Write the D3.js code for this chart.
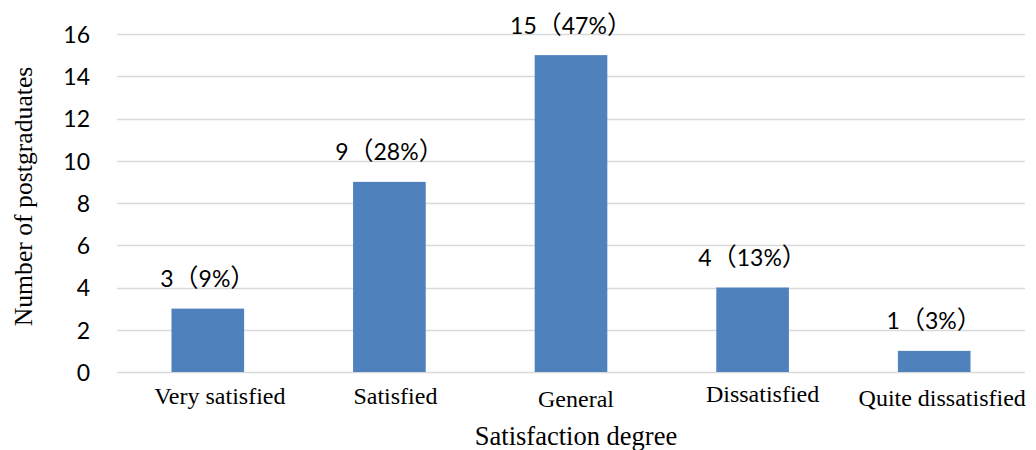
<!DOCTYPE html>
<html><head><meta charset="utf-8">
<script src="https://cdn.jsdelivr.net/npm/d3@7"></script>
<style>body{margin:0;background:#fff;}svg{display:block;}</style>
</head><body>
<svg id="chart" width="1036" height="450"></svg>
<script>
const categories = ["Very satisfied","Satisfied","General","Dissatisfied","Quite dissatisfied"];
const counts = [3, 9, 15, 4, 1];
const percents = ["9%","28%","47%","13%","3%"];
const yTicks = [0,2,4,6,8,10,12,14,16];

const svg = d3.select("#chart");
const plot = {left:117, right:1025, top:34, bottom:372};
const labelDy = [0, 0, 3, -1.5, 2];
const labelDx = [12, 6, 5, 10, 8];

const x = d3.scaleBand().domain(categories).range([plot.left, plot.right]).paddingInner(0.6).paddingOuter(0.3);
const y = d3.scaleLinear().domain([0,16]).range([plot.bottom, plot.top]);

const num = "Lato, 'Noto Sans CJK SC', sans-serif";
const cjk = "'Noto Sans CJK SC', sans-serif";
const serif = "'Liberation Serif', 'Times New Roman', serif";

// gridlines
svg.append("g").selectAll("line").data(yTicks).join("line")
  .attr("x1", plot.left).attr("x2", plot.right)
  .attr("y1", d => Math.round(y(d))+0.5).attr("y2", d => Math.round(y(d))+0.5)
  .attr("stroke", "#d9d9d9").attr("stroke-width", 1.5);

// y axis labels
const yAxis = d3.axisLeft(y).tickValues(yTicks).tickSize(0).tickPadding(0);
const gy = svg.append("g").attr("transform", `translate(90,0)`).call(yAxis);
gy.select(".domain").remove();
gy.selectAll("text").attr("font-family", num).attr("font-size", 23).attr("fill", "#000").attr("dy", "0.36em");

// bars
svg.append("g").selectAll("rect").data(categories).join("rect")
  .attr("x", d => x(d)).attr("width", x.bandwidth())
  .attr("y", (d,i) => y(counts[i])).attr("height", (d,i) => y(0) - y(counts[i]))
  .attr("fill", "#4f81bd");

// value labels
const vl = svg.append("g").selectAll("text").data(categories).join("text")
  .attr("x", d => x(d) + x.bandwidth()/2)
  .attr("y", (d,i) => y(counts[i]) - 21.5)
  .attr("text-anchor", "middle")
  .attr("font-family", num).attr("font-size", 23).attr("fill", "#000");
vl.append("tspan").text((d,i) => counts[i]);
vl.append("tspan").attr("font-family", cjk).attr("font-size", 25).text("（");
vl.append("tspan").text((d,i) => percents[i]);
vl.append("tspan").attr("font-family", cjk).attr("font-size", 25).text("）");

// x category labels
const xAxis = d3.axisBottom(x).tickSize(0).tickPadding(0);
const gx = svg.append("g").attr("transform", `translate(0,${plot.bottom})`).call(xAxis);
gx.select(".domain").remove();
gx.selectAll("text").attr("font-family", serif).attr("font-size", 24).attr("fill", "#000")
  .attr("dy", null).attr("y", (d,i) => 31.5 + labelDy[i]).attr("x", (d,i) => labelDx[i]);

// axis titles
svg.append("text").attr("x", 576).attr("y", 445).attr("text-anchor", "middle")
  .attr("font-family", serif).attr("font-size", 26.5).attr("fill", "#000")
  .text("Satisfaction degree");
svg.append("text").attr("transform", "translate(32,196.5) rotate(-90)").attr("text-anchor", "middle")
  .attr("font-family", serif).attr("font-size", 25.7).attr("fill", "#000")
  .text("Number of postgraduates");
</script>
</body></html>
